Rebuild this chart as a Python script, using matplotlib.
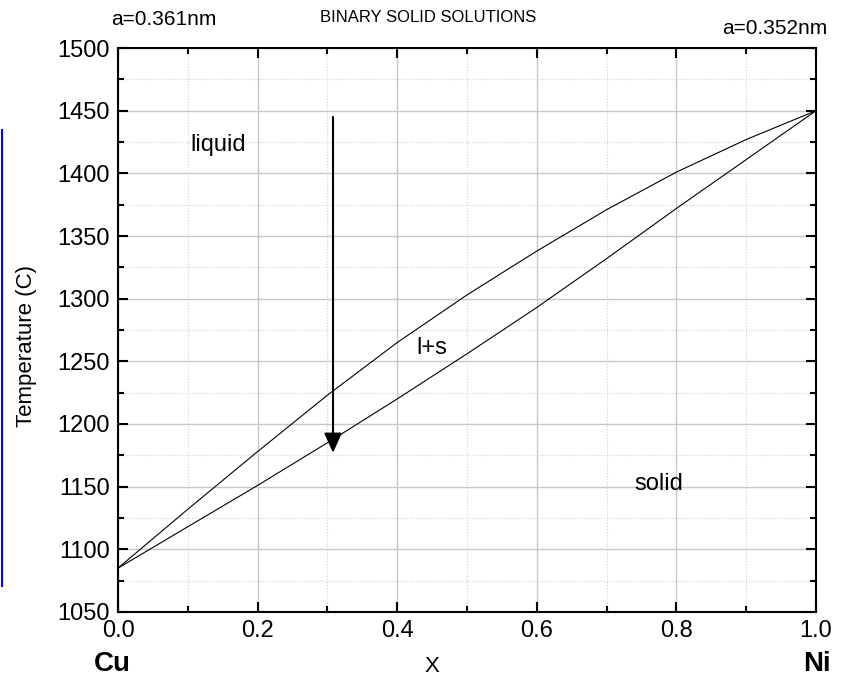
import matplotlib
matplotlib.use("Agg")
import matplotlib.pyplot as plt
from matplotlib.lines import Line2D
from matplotlib.ticker import MultipleLocator

plt.rcParams['font.family'] = ['Liberation Sans', 'DejaVu Sans']

# Cu-Ni phase diagram: composition X and the two phase boundaries (deg C)
x_frac = [0.0, 0.1, 0.2, 0.3, 0.4, 0.5, 0.6, 0.7, 0.8, 0.9, 1.0]
liquidus = [1085, 1132, 1178, 1223, 1265, 1303, 1338, 1371, 1401, 1427, 1450]
solidus = [1085, 1118, 1151, 1185, 1220, 1256, 1293, 1332, 1372, 1411, 1450]

# cooling path drawn as an arrow
cool_x = 0.308
cool_start, cool_end = 1445, 1177

region_labels = [("liquid", 0.143, 1423), ("l+s", 0.45, 1261), ("solid", 0.775, 1152)]

fig = plt.figure(figsize=(8.57, 6.86), dpi=100)
ax = fig.add_axes([0.1377, 0.1079, 0.8145, 0.8221])

ax.plot(x_frac, liquidus, color='black', lw=0.8)
ax.plot(x_frac, solidus, color='black', lw=0.8)

ax.annotate('', xy=(cool_x, cool_end), xytext=(cool_x, cool_start),
            arrowprops=dict(arrowstyle='-|>,head_length=0.6,head_width=0.27',
                            mutation_scale=20, color='black', lw=1.5,
                            shrinkA=0, shrinkB=0))

for txt, xx, yy in region_labels:
    ax.text(xx, yy, txt, fontsize=17, ha='center', va='center')

ax.set_xlim(0, 1)
ax.set_ylim(1050, 1500)
ax.xaxis.set_major_locator(MultipleLocator(0.2))
ax.xaxis.set_minor_locator(MultipleLocator(0.1))
ax.yaxis.set_major_locator(MultipleLocator(50))
ax.yaxis.set_minor_locator(MultipleLocator(25))
ax.xaxis.set_major_formatter(lambda v, p: f"{v:.1f}")

ax.grid(which='major', color='#c8c8c8', lw=1.0, ls='-')
ax.grid(which='minor', color='#d0d0d0', lw=0.8, ls=':')
ax.set_axisbelow(True)

ax.tick_params(which='both', direction='in', top=True, right=True,
               labelsize=17, width=1.5)
ax.tick_params(which='major', length=7, pad=6)
ax.tick_params(which='minor', length=4)
for s in ax.spines.values():
    s.set_linewidth(1.5)

fig.text(0.0315, 0.4956, "Temperature (C)", rotation=90, fontsize=16,
         ha='center', va='center')
fig.text(0.504, 0.029, "X", fontsize=16, ha='center', va='center')
fig.text(0.1307, 0.032, "Cu", fontsize=20, fontweight='bold', ha='center', va='center')
fig.text(0.953, 0.032, "Ni", fontsize=20, fontweight='bold', ha='center', va='center')
fig.text(0.191, 0.971, "a=0.361nm", fontsize=15, ha='center', va='center')
fig.text(0.5, 0.974, "BINARY SOLID SOLUTIONS", fontsize=12, ha='center', va='center')
fig.text(0.904, 0.959, "a=0.352nm", fontsize=15, ha='center', va='center')

# blue marker bar at the left edge
fig.add_artist(Line2D([0.0025, 0.0025], [0.1458, 0.8105], color='blue', lw=1.5,
                      transform=fig.transFigure))

fig.savefig("out.png", dpi=100)
